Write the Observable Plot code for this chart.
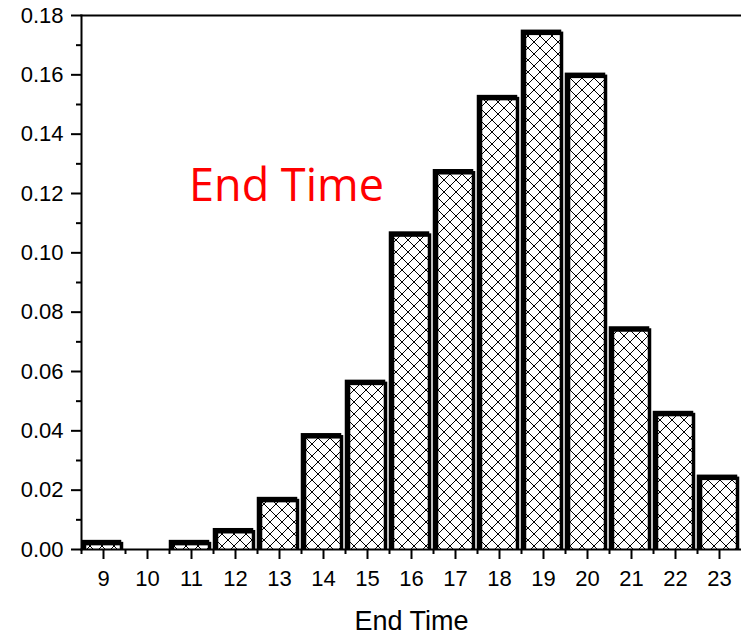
<!DOCTYPE html>
<html><head><meta charset="utf-8">
<script src="https://cdn.jsdelivr.net/npm/d3@7"></script>
<script src="https://cdn.jsdelivr.net/npm/@observablehq/plot@0.6"></script>
<style>body{margin:0;background:#fff;} svg{display:block}</style>
</head><body><div id="chart"></div>
<script>
const hours = [9, 10, 11, 12, 13, 14, 15, 16, 17, 18, 19, 20, 21, 22, 23];
const shares = [0.003, 0, 0.003, 0.007, 0.0175, 0.039, 0.057, 0.107, 0.128, 0.153, 0.175, 0.1605, 0.075, 0.0465, 0.025];
const yTicks = [0, 0.02, 0.04, 0.06, 0.08, 0.10, 0.12, 0.14, 0.16, 0.18];
const yMinorTicks = [0.01, 0.03, 0.05, 0.07, 0.09, 0.11, 0.13, 0.15, 0.17];
const xLabel = "End Time";
const annotation = "End Time";

const data = hours.map((h, i) => ({hour: h, share: shares[i]})).filter(d => d.share > 0);

const W = 741, ML = 81, MR = 0;
const step = (W - ML - MR) / hours.length;
const below = -0.004; // bar bottoms are pushed below the axis and clipped away

const svg = Plot.plot({
  width: W, height: 637,
  marginTop: 15, marginBottom: 88, marginLeft: ML, marginRight: MR,
  style: {fontFamily: "'Liberation Sans', Arial, sans-serif", fontSize: "22px", color: "#000", background: "#fff", overflow: "visible"},
  x: {type: "band", domain: hours, padding: 0},
  y: {domain: [0, 0.18]},
  marks: [
    Plot.barY(data, {x: "hour", y1: () => below, y2: "share", fill: "#000", stroke: "#000", strokeWidth: 3.5, inset: 3.5, dx: -2, dy: -2, clip: true}),
    Plot.barY(data, {x: "hour", y1: () => below, y2: "share", fill: "url(#hatch)", stroke: "#000", strokeWidth: 3.5, inset: 3.5, clip: true}),
    Plot.axisY({ticks: yTicks, tickFormat: d3.format(".2f"), tickSize: 10, tickPadding: 8, strokeWidth: 2, fontSize: 22, label: null}),
    Plot.axisY({ticks: yMinorTicks, tickSize: 5, tickFormat: () => "", strokeWidth: 2, label: null}),
    Plot.axisX({tickSize: 10, tickPadding: 11, strokeWidth: 2, fontSize: 22, label: null}),
    Plot.axisX({tickSize: 5, tickFormat: () => "", dx: -step / 2, strokeWidth: 2, label: null}),
    Plot.frame({anchor: "left", strokeWidth: 2}),
    Plot.frame({anchor: "bottom", strokeWidth: 2}),
    Plot.frame({anchor: "top", strokeWidth: 2}),
    Plot.text([xLabel], {frameAnchor: "bottom", dy: 61, lineAnchor: "top", fontSize: 27}),
    Plot.text([annotation], {x: () => 13, y: () => 0.1227, dx: 7, dy: 1, lineAnchor: "middle", fontSize: 45, fontFamily: "'Open Sans', sans-serif", fill: "#ff0000"})
  ]
});

const defs = d3.select(svg).insert("defs", ":first-child");
const pat = defs.append("pattern").attr("id", "hatch").attr("patternUnits", "userSpaceOnUse")
  .attr("width", 12).attr("height", 12);
pat.append("rect").attr("width", 12).attr("height", 12).attr("fill", "#fff");
pat.append("path").attr("d", "M0,0L12,12M12,0L0,12").attr("stroke", "#000").attr("stroke-width", 1);

document.getElementById("chart").appendChild(svg);
</script>
</body></html>
